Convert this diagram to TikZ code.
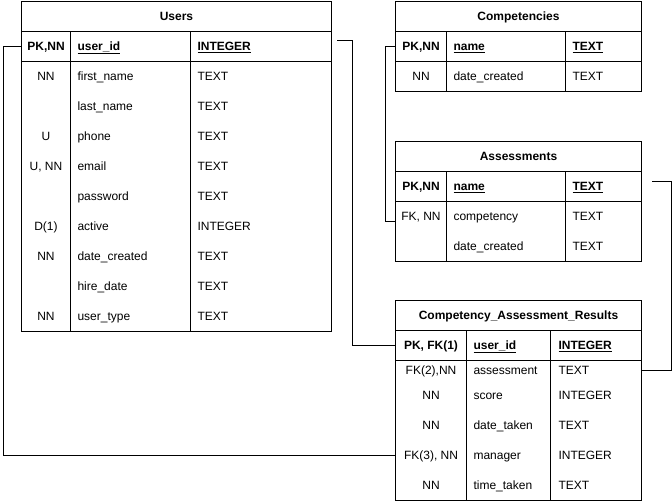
\documentclass[tikz,border=0pt]{standalone}
\usepackage{fontspec}
\setmainfont{Liberation Sans}
\usetikzlibrary{calc}

\begin{document}
\begin{tikzpicture}[
    x=1pt, y=-1pt, line width=1pt,
    font=\fontsize{12}{14}\selectfont,
    cell/.style={inner sep=0pt, anchor=north west, minimum height=30pt,
      text height=8.6pt, text depth=0pt},
    tbltitle/.style={cell, draw, font=\fontsize{12}{14}\selectfont\bfseries},
    head/.style={cell, draw, font=\fontsize{12}{14}\selectfont\bfseries},
    col/.style={cell, draw},
    key/.style={cell},
    fld/.style={anchor=west, inner sep=0pt, text height=8.6pt, text depth=0pt},
    hfld/.style={fld, font=\fontsize{12}{14}\selectfont\bfseries},
  ]

  \useasboundingbox (0,0) rectangle (672,501);

  % Users
  \node[tbltitle, minimum width=310pt] (u-t) at (21,1) {Users};
  \node[head, minimum width=49pt] (u-pk) at (21,31) {PK,NN};
  \node[head, minimum width=120pt] (u-nm) at (70,31) {};
  \node[head, minimum width=141pt] (u-ty) at (190,31) {};
  \node[hfld] (u-id) at (77,46) {\underline{user\_id}};
  \node[hfld] (u-idt) at (197,46) {\underline{INTEGER}};
  \node[col, minimum width=49pt, minimum height=270pt] (u-c1) at (21,61) {};
  \node[col, minimum width=120pt, minimum height=270pt] (u-c2) at (70,61) {};
  \node[col, minimum width=141pt, minimum height=270pt] (u-c3) at (190,61) {};

  \node[key, minimum width=49pt] (u-k1) at (21,61) {NN};
  \node[fld] (u-fn) at (77,76) {first\_name};
  \node[fld] (u-fnt) at (197,76) {TEXT};
  \node[fld] (u-ln) at (77,106) {last\_name};
  \node[fld] (u-lnt) at (197,106) {TEXT};
  \node[key, minimum width=49pt] (u-k3) at (21,121) {U};
  \node[fld] (u-ph) at (77,136) {phone};
  \node[fld] (u-pht) at (197,136) {TEXT};
  \node[key, minimum width=49pt] (u-k4) at (21,151) {U, NN};
  \node[fld] (u-em) at (77,166) {email};
  \node[fld] (u-emt) at (197,166) {TEXT};
  \node[fld] (u-pw) at (77,196) {password};
  \node[fld] (u-pwt) at (197,196) {TEXT};
  \node[key, minimum width=49pt] (u-k6) at (21,211) {D(1)};
  \node[fld] (u-ac) at (77,226) {active};
  \node[fld] (u-act) at (197,226) {INTEGER};
  \node[key, minimum width=49pt] (u-k7) at (21,241) {NN};
  \node[fld] (u-dc) at (77,256) {date\_created};
  \node[fld] (u-dct) at (197,256) {TEXT};
  \node[fld] (u-hd) at (77,286) {hire\_date};
  \node[fld] (u-hdt) at (197,286) {TEXT};
  \node[key, minimum width=49pt] (u-k9) at (21,301) {NN};
  \node[fld] (u-ut) at (77,316) {user\_type};
  \node[fld] (u-utt) at (197,316) {TEXT};

  % Competencies
  \node[tbltitle, minimum width=246pt] (c-t) at (395,1) {Competencies};
  \node[head, minimum width=51pt] (c-pk) at (395,31) {PK,NN};
  \node[head, minimum width=119pt] (c-nm) at (446,31) {};
  \node[head, minimum width=76pt] (c-ty) at (565,31) {};
  \node[hfld] (c-name) at (453,46) {\underline{name}};
  \node[hfld] (c-namet) at (572,46) {\underline{TEXT}};
  \node[col, minimum width=51pt] (c-c1) at (395,61) {};
  \node[col, minimum width=119pt] (c-c2) at (446,61) {};
  \node[col, minimum width=76pt] (c-c3) at (565,61) {};
  \node[key, minimum width=51pt] (c-k1) at (395,61) {NN};
  \node[fld] (c-dc) at (453,76) {date\_created};
  \node[fld] (c-dct) at (572,76) {TEXT};

  % Assessments
  \node[tbltitle, minimum width=246pt] (a-t) at (395,141) {Assessments};
  \node[head, minimum width=51pt] (a-pk) at (395,171) {PK,NN};
  \node[head, minimum width=119pt] (a-nm) at (446,171) {};
  \node[head, minimum width=76pt] (a-ty) at (565,171) {};
  \node[hfld] (a-name) at (453,186) {\underline{name}};
  \node[hfld] (a-namet) at (572,186) {\underline{TEXT}};
  \node[col, minimum width=51pt, minimum height=60pt] (a-c1) at (395,201) {};
  \node[col, minimum width=119pt, minimum height=60pt] (a-c2) at (446,201) {};
  \node[col, minimum width=76pt, minimum height=60pt] (a-c3) at (565,201) {};
  \node[key, minimum width=51pt] (a-fk) at (395,201) {FK, NN};
  \node[fld] (a-cp) at (453,216) {competency};
  \node[fld] (a-cpt) at (572,216) {TEXT};
  \node[fld] (a-dc) at (453,246) {date\_created};
  \node[fld] (a-dct) at (572,246) {TEXT};

  % Competency_Assessment_Results
  \node[tbltitle, minimum width=246pt] (r-t) at (395,300) {Competency\_Assessment\_Results};
  \node[head, minimum width=71pt] (r-pk) at (395,330) {PK, FK(1)};
  \node[head, minimum width=84pt] (r-nm) at (466,330) {};
  \node[head, minimum width=91pt] (r-ty) at (550,330) {};
  \node[hfld] (r-id) at (473,345) {\underline{user\_id}};
  \node[hfld] (r-idt) at (558,345) {\underline{INTEGER}};
  \node[col, minimum width=71pt, minimum height=140pt] (r-c1) at (395,360) {};
  \node[col, minimum width=84pt, minimum height=140pt] (r-c2) at (466,360) {};
  \node[col, minimum width=91pt, minimum height=140pt] (r-c3) at (550,360) {};
  \node[key, minimum width=71pt, minimum height=20pt] (r-as) at (395,360) {FK(2),NN};
  \node[fld] (r-asn) at (473,370) {assessment};
  \node[fld] (r-ast) at (558,370) {TEXT};
  \node[key, minimum width=71pt] (r-sc) at (395,380) {NN};
  \node[fld] (r-scn) at (473,395) {score};
  \node[fld] (r-sct) at (558,395) {INTEGER};
  \node[key, minimum width=71pt] (r-dt) at (395,410) {NN};
  \node[fld] (r-dtn) at (473,425) {date\_taken};
  \node[fld] (r-dtt) at (558,425) {TEXT};
  \node[key, minimum width=71pt] (r-mg) at (395,440) {FK(3), NN};
  \node[fld] (r-mgn) at (473,455) {manager};
  \node[fld] (r-mgt) at (558,455) {INTEGER};
  \node[key, minimum width=71pt] (r-tt) at (395,470) {NN};
  \node[fld] (r-ttn) at (473,485) {time\_taken};
  \node[fld] (r-ttt) at (558,485) {TEXT};

  % relations
  \coordinate (u-out) at ($(u-ty.east)+(5,-6)$);
  \coordinate (a-out) at ($(a-ty.east)+(10,-5)$);
  \draw (u-pk.west) -- ++(-18,0) |- (r-mg.west);
  \draw (u-out) -- ++(15,0) |- (r-pk.west);
  \draw (c-pk.west) -- ++(-10,0) |- ($(a-fk.west)+(0,5)$);
  \draw (a-out) -- ++(19,0) |- (r-as -| r-c3.east);

\end{tikzpicture}
\end{document}
